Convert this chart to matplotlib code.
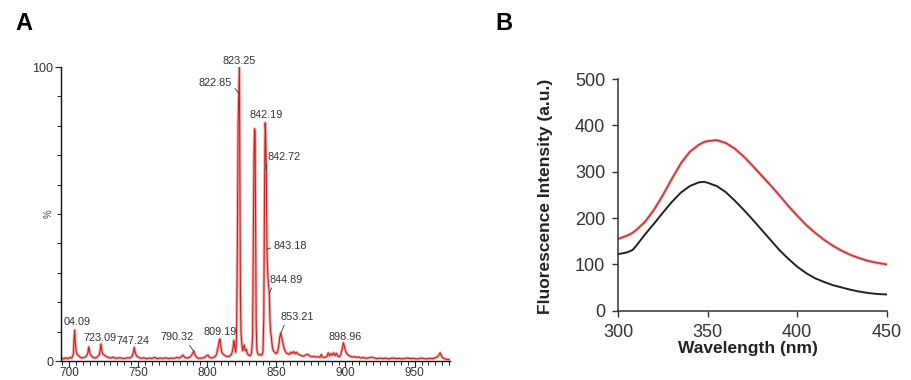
import numpy as np
import matplotlib
matplotlib.use("Agg")
import matplotlib.pyplot as plt
from matplotlib.ticker import MultipleLocator

plt.rcParams["font.family"] = ["Liberation Sans", "DejaVu Sans"]

# Panel A: mass spectrum profile (m/z, relative intensity %)
mz = [
    693.0, 694.5, 696.0, 697.5, 699.0, 700.5, 702.0, 703.2, 703.6, 704.1,
    704.6, 705.2, 706.0, 707.0, 708.0, 709.5, 711.0, 712.5, 713.5, 714.3,
    715.0, 716.0, 717.5, 719.0, 720.5, 722.0, 722.6, 723.1, 723.7, 724.5,
    725.5, 727.0, 728.5, 730.0, 732.0, 734.0, 736.0, 738.0, 740.0, 742.0,
    744.0, 745.5, 746.6, 747.2, 747.9, 749.0, 750.5, 752.0, 754.0, 756.0,
    758.0, 760.0, 762.0, 764.0, 766.0, 768.0, 770.0, 772.0, 774.0, 776.0,
    778.0, 780.0, 781.5, 782.5, 783.5, 785.0, 787.0, 788.5, 789.6, 790.3,
    791.2, 792.5, 794.0, 796.0, 798.0, 799.5, 800.5, 801.5, 803.0, 805.0,
    806.5, 807.8, 808.6, 809.2, 809.8, 810.5, 811.5, 813.0, 814.5, 816.0,
    817.5, 818.5, 819.3, 820.0, 820.6, 821.2, 821.8, 822.3, 822.85, 823.25,
    823.6, 824.0, 824.4, 825.0, 825.5, 826.2, 826.8, 827.5, 828.3, 829.0,
    830.0, 831.0, 832.0, 832.8, 833.3, 833.8, 834.2, 834.6, 835.0, 835.4,
    835.9, 836.5, 837.5, 838.5, 839.5, 840.3, 840.9, 841.4, 841.9, 842.2,
    842.72, 843.18, 843.7, 844.3, 844.89, 845.3, 845.8, 846.4, 847.0, 847.8,
    848.8, 849.8, 850.8, 851.7, 852.4, 853.2, 853.8, 854.4, 855.0, 855.8,
    856.6, 857.5, 858.5, 859.5, 860.5, 861.5, 862.5, 863.5, 864.5, 865.5,
    866.5, 868.0, 869.5, 871.0, 872.5, 874.0, 875.5, 877.0, 878.5, 880.0,
    881.5, 882.5, 883.5, 885.0, 886.5, 887.5, 888.5, 889.5, 890.5, 891.5,
    892.5, 893.5, 894.5, 895.5, 896.5, 897.5, 898.5, 899.2, 900.0, 901.0,
    902.0, 903.5, 905.0, 906.5, 908.0, 909.5, 911.0, 913.0, 915.0, 917.0,
    919.0, 921.0, 923.0, 925.0, 927.0, 929.0, 931.0, 933.0, 935.0, 937.0,
    939.0, 941.0, 943.0, 945.0, 947.0, 949.0, 951.0, 953.0, 955.0, 957.0,
    959.0, 961.0, 963.0, 965.0, 966.5, 967.5, 968.5, 969.2, 970.0, 971.5,
    973.0, 975.0,
]
intensity = [
    0.6, 1.0, 0.7, 1.1, 0.8, 1.2, 1.0, 2.5, 7.0, 10.5,
    6.0, 3.2, 2.2, 1.8, 1.3, 1.0, 1.2, 1.6, 2.5, 4.8,
    2.8, 1.8, 1.2, 1.0, 1.4, 2.2, 4.0, 5.8, 3.5, 2.4,
    2.0, 1.5, 1.2, 1.0, 1.3, 0.9, 1.1, 1.0, 0.8, 1.1,
    1.0, 1.5, 3.0, 4.6, 2.8, 1.6, 1.2, 0.9, 1.1, 0.8,
    1.0, 0.9, 1.2, 0.8, 1.0, 0.9, 1.1, 0.8, 1.0, 0.9,
    1.2, 1.0, 1.6, 2.0, 1.3, 1.0, 1.2, 1.8, 2.8, 3.3,
    2.0, 1.2, 0.9, 1.0, 1.2, 1.8, 2.0, 1.3, 1.0, 1.3,
    2.0, 4.5, 6.8, 7.5, 5.0, 3.0, 2.3, 1.8, 1.5, 1.6,
    2.2, 4.0, 7.0, 4.5, 3.0, 8.0, 40.0, 80.0, 91.0, 100.0,
    60.0, 22.0, 10.0, 6.0, 3.5, 4.5, 5.5, 3.5, 4.0, 2.5,
    2.0, 1.8, 2.5, 8.0, 40.0, 70.0, 79.0, 78.0, 45.0, 12.0,
    4.0, 2.5, 2.0, 2.2, 2.0, 3.0, 15.0, 55.0, 81.0, 78.0,
    65.0, 38.0, 30.0, 26.0, 23.0, 15.0, 10.0, 8.0, 5.0, 3.5,
    3.0, 2.5, 3.0, 5.0, 8.0, 9.5, 8.0, 7.0, 5.5, 4.0,
    3.2, 2.6, 2.5, 2.2, 3.0, 2.6, 3.2, 2.5, 3.0, 2.4,
    2.2, 1.8, 1.6, 2.0, 2.3, 1.8, 1.4, 1.6, 1.3, 1.5,
    1.2, 2.2, 1.3, 1.2, 1.5, 2.8, 1.7, 2.5, 2.0, 2.8,
    1.8, 2.6, 1.6, 1.4, 2.0, 4.0, 6.2, 5.0, 3.5, 2.5,
    2.0, 1.6, 1.3, 1.5, 1.2, 1.4, 1.0, 1.2, 0.9, 1.1,
    1.3, 1.0, 0.8, 1.0, 0.8, 1.0, 0.7, 0.9, 1.0, 0.8,
    0.9, 0.7, 0.9, 1.0, 0.8, 0.9, 0.7, 0.8, 1.0, 0.8,
    0.7, 0.9, 0.8, 1.1, 1.4, 2.0, 2.8, 2.0, 1.2, 0.8,
    0.6, 0.5,
]

peak_labels = ["04.09", "723.09", "747.24", "790.32", "809.19", "823.25",
               "822.85", "842.19", "842.72", "843.18", "844.89", "853.21",
               "898.96"]
peak_mz = [704.09, 723.09, 747.24, 790.32, 809.19, 823.25,
           822.85, 842.19, 842.72, 843.18, 844.89, 853.21, 898.96]

# Panel B: fluorescence emission spectra
wavelength = [300, 305, 308, 310, 315, 320, 325, 330, 335, 340, 345, 348, 350,
              355, 360, 365, 370, 375, 380, 385, 390, 395, 400, 405, 410, 415,
              420, 425, 430, 435, 440, 445, 450]
red_curve = [155, 162, 168, 174, 192, 218, 250, 285, 318, 343, 358, 364, 366,
             368, 362, 350, 333, 313, 292, 271, 249, 226, 205, 185, 168, 153,
             140, 129, 120, 113, 107, 103, 100]
black_curve = [122, 126, 131, 140, 165, 188, 212, 235, 255, 269, 277, 278, 276,
               269, 256, 238, 218, 197, 175, 153, 131, 112, 95, 81, 70, 62,
               55, 50, 45, 41, 38, 36, 35]

W, H = 912, 380
fig = plt.figure(figsize=(W / 100, H / 100), dpi=100)

# ---- panel A ----
axA = fig.add_axes([61 / W, 1 - 361 / H, 389 / W, 294 / H])
axA.plot(mz, intensity, color="#f3b2b2", lw=2.2, solid_joinstyle="round")
axA.plot(mz, intensity, color="#c81e1e", lw=0.8)
axA.set_xlim(694.2, 975.6)
axA.set_ylim(0, 100)
for s in ["top", "right"]:
    axA.spines[s].set_visible(False)
for s in ["left", "bottom"]:
    axA.spines[s].set_color("#111111")
    axA.spines[s].set_linewidth(1.0)
axA.xaxis.set_major_locator(MultipleLocator(50))
axA.xaxis.set_minor_locator(MultipleLocator(5))
axA.set_yticks([0, 100])
axA.yaxis.set_minor_locator(MultipleLocator(10))
axA.tick_params(which="major", length=4, width=0.8, labelsize=9,
                pad=1.5, color="#222222", labelcolor="#333333")
axA.tick_params(axis="x", which="major", labelsize=8.5, pad=0.3)
axA.tick_params(which="minor", length=3, width=0.7, color="#222222")
axA.set_ylabel("%", fontsize=7, color="#444444")
axA.yaxis.set_label_coords(-0.02, 0.5)

# text positions (data coords) and where the leader line leaves the text
label_pos = [(705.8, 13.3, None), (722.5, 7.8, None), (746.3, 6.8, None),
             (778.5, 8.0, (0.8, 0.0)), (809.3, 9.9, None),
             (823.0, 102.0, None), (806.0, 94.6, (1.0, 0.3)),
             (842.5, 83.7, None), (855.5, 69.4, (0.0, 0.2)),
             (860.0, 39.1, (0.0, 0.4)), (857.0, 27.5, (0.1, 0.0)),
             (865.0, 14.8, (0.15, 0.0)), (899.7, 8.2, None)]
for txt, pm, (tx, ty, rel) in zip(peak_labels, peak_mz, label_pos):
    kw = dict(fontsize=7.8, color="#333333", ha="center", va="center",
              annotation_clip=False)
    if rel is not None:
        py = np.interp(pm, mz, intensity)
        axA.annotate(txt, xy=(pm, py), xytext=(tx, ty),
                     arrowprops=dict(arrowstyle="-", color="#333333", lw=0.6,
                                     shrinkA=0, shrinkB=0, relpos=rel), **kw)
    else:
        axA.annotate(txt, xy=(tx, ty), **kw)

# ---- panel B ----
axB = fig.add_axes([618.3 / W, 1 - 310.7 / H, 268.4 / W, 231.7 / H])
axB.plot(wavelength, red_curve, color="#f2b8b8", lw=2.3,
         solid_joinstyle="round")
axB.plot(wavelength, red_curve, color="#cc3535", lw=1.2,
         solid_joinstyle="round")
axB.plot(wavelength, black_curve, color="#222222", lw=1.4,
         solid_joinstyle="round")
axB.set_xlim(300, 450)
axB.set_ylim(0, 500)
axB.set_xticks([300, 350, 400, 450])
axB.set_yticks(range(0, 501, 100))
for s in ["top", "right"]:
    axB.spines[s].set_visible(False)
for s in ["left", "bottom"]:
    axB.spines[s].set_color("#333333")
    axB.spines[s].set_linewidth(1.1)
axB.tick_params(direction="out", length=4.5, width=1.0, color="#333333",
                labelsize=13, labelcolor="#333333", pad=5)
axB.set_xlabel("Wavelength (nm)", fontsize=12.5, fontweight="bold",
               color="#222222")
axB.set_ylabel("Fluorescence Intensity (a.u.)", fontsize=12.5,
               fontweight="bold", color="#222222")
axB.xaxis.set_label_coords(0.483, -0.131)
axB.yaxis.set_label_coords(-0.242, 0.495)

fig.text(24 / W, 1 - 24 / H, "A", fontsize=17, fontweight="bold",
         ha="center", va="center")
fig.text(504 / W, 1 - 24 / H, "B", fontsize=17, fontweight="bold",
         ha="center", va="center")

fig.savefig("out.png", dpi=100)
